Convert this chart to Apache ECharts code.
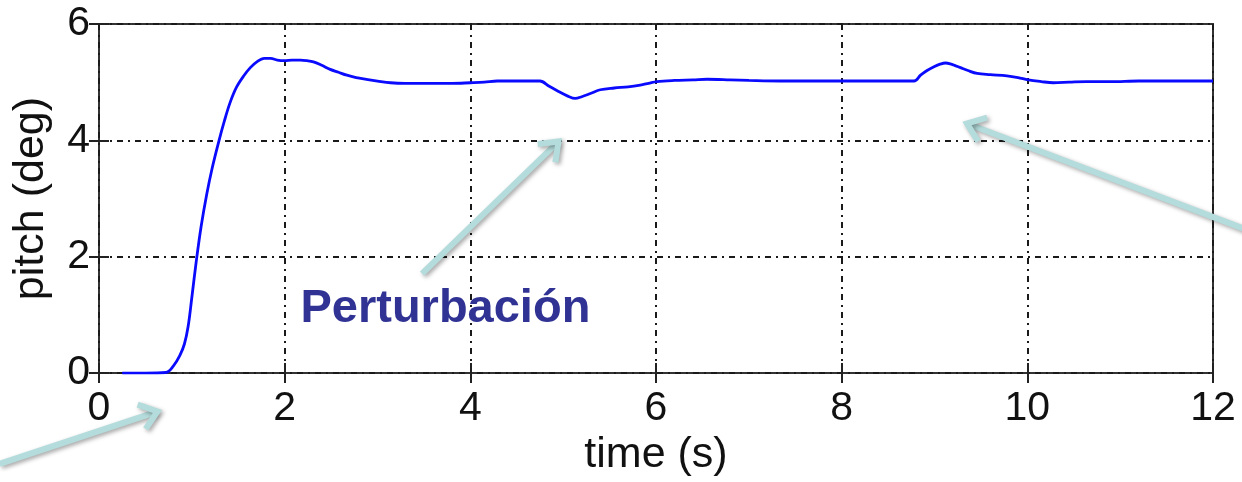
<!DOCTYPE html>
<html><head><meta charset="utf-8">
<script src="https://cdn.jsdelivr.net/npm/echarts@6/dist/echarts.min.js"></script>
<style>html,body{margin:0;padding:0;background:#fff}#c{width:1242px;height:482px}</style>
</head><body><div id="c"></div>
<script>
// ---- data ----
const timeS = [0.25,0.5,0.72,0.8,0.87,0.92,0.96,1.0,1.05,1.1,1.16,1.22,1.29,1.35,1.41,1.48,1.56,1.63,1.70,1.78,1.85,1.92,2.0,2.08,2.17,2.24,2.31,2.40,2.49,2.58,2.67,2.77,2.88,3.0,3.14,3.3,3.57,3.8,4.0,4.15,4.29,4.45,4.64,4.75,4.85,4.95,5.05,5.13,5.2,5.3,5.4,5.55,5.7,5.83,5.92,6.01,6.2,6.4,6.55,6.8,7.0,7.34,7.6,8.02,8.4,8.78,8.85,8.92,9.0,9.06,9.12,9.18,9.23,9.28,9.36,9.46,9.6,9.78,9.9,10.01,10.15,10.28,10.45,10.64,10.9,11.2,11.5,11.8,12.0];
const pitchDeg = [0,0,0.01,0.12,0.3,0.5,0.8,1.3,1.95,2.52,3.07,3.53,3.98,4.33,4.64,4.91,5.11,5.25,5.35,5.41,5.41,5.38,5.37,5.38,5.38,5.37,5.35,5.29,5.22,5.17,5.12,5.08,5.05,5.02,4.99,4.98,4.98,4.98,4.99,5.0,5.02,5.02,5.02,5.02,4.93,4.84,4.76,4.72,4.75,4.81,4.87,4.9,4.92,4.95,4.98,5.01,5.03,5.04,5.05,5.04,5.03,5.02,5.02,5.02,5.02,5.02,5.12,5.2,5.27,5.31,5.33,5.31,5.28,5.25,5.2,5.15,5.13,5.11,5.08,5.04,5.01,4.99,5.0,5.01,5.01,5.02,5.02,5.02,5.02];
const xTickValues = [0,2,4,6,8,10,12];
const yTickValues = [0,2,4,6];
const xAxisName = 'time (s)';
const yAxisName = 'pitch (deg)';
const noteText = 'Perturbación';
// annotation arrows in data coordinates: [tail, tip]
const arrowTails = [[-1.07,-1.56],[3.48,1.71],[12.4,2.44]];
const arrowTips  = [[0.63,-0.66],[4.95,3.98],[9.35,4.29]];
const noteAnchor = [2.17,1.1];

const chart = echarts.init(document.getElementById('c'), null, {renderer:'canvas'});
const FONT = 'Liberation Sans, Arial, Helvetica, sans-serif';
const gridStyle = {type:[6,5,2,5], color:'#1a1a1a', width:2};
const tickStyle = {inside:true, length:10, lineStyle:{color:'#222', width:2}};
const xStep = xTickValues[1]-xTickValues[0];
const yStep = yTickValues[1]-yTickValues[0];
const xMin = xTickValues[0], xMax = xTickValues[xTickValues.length-1];
const yMin = yTickValues[0], yMax = yTickValues[yTickValues.length-1];

chart.setOption({
  animation:false,
  backgroundColor:'#fff',
  grid:{left:99,right:29,top:24,bottom:104,show:true,borderColor:'#333',borderWidth:2,backgroundColor:'transparent'},
  xAxis:[{
    type:'value',min:xMin,max:xMax,interval:xStep,position:'bottom',
    axisLine:{show:false},axisTick:tickStyle,
    axisLabel:{fontSize:41,color:'#111',margin:15,fontFamily:FONT,lineHeight:41},
    splitLine:{show:true,lineStyle:gridStyle},
    name:xAxisName,nameLocation:'middle',nameGap:57,
    nameTextStyle:{fontSize:43,color:'#111',fontFamily:FONT,lineHeight:43}
  },{
    type:'value',min:xMin,max:xMax,interval:xStep,position:'top',
    axisLine:{show:false},axisTick:tickStyle,axisLabel:{show:false},splitLine:{show:false}
  }],
  yAxis:[{
    type:'value',min:yMin,max:yMax,interval:yStep,position:'left',
    axisLine:{show:false},axisTick:tickStyle,
    axisLabel:{fontSize:41,color:'#111',margin:9,fontFamily:FONT,lineHeight:41},
    splitLine:{show:true,lineStyle:gridStyle},
    name:yAxisName,nameLocation:'middle',nameGap:46,
    nameTextStyle:{fontSize:43,color:'#111',fontFamily:FONT,lineHeight:43}
  },{
    type:'value',min:yMin,max:yMax,interval:yStep,position:'right',
    axisLine:{show:false},axisTick:tickStyle,axisLabel:{show:false},splitLine:{show:false}
  }],
  series:[{
    type:'line',xAxisIndex:0,yAxisIndex:0,
    data:timeS.map((t,i)=>[t,pitchDeg[i]]),
    showSymbol:false,smooth:0.35,
    lineStyle:{color:'#0a0aff',width:2.8},
    z:3
  }]
});

// annotations
const arrowColor = '#b5dcdc';
const shadow = {shadowBlur:4,shadowColor:'rgba(0,0,0,0.35)',shadowOffsetX:2,shadowOffsetY:2};
const elems = [];
arrowTails.forEach((tail,i)=>{
  const p0 = chart.convertToPixel({gridIndex:0}, tail);
  const p1 = chart.convertToPixel({gridIndex:0}, arrowTips[i]);
  const ang = Math.atan2(p1[1]-p0[1], p1[0]-p0[0]);
  const L = 21, a = 0.65;
  const b1 = [p1[0]-L*Math.cos(ang-a), p1[1]-L*Math.sin(ang-a)];
  const b2 = [p1[0]-L*Math.cos(ang+a), p1[1]-L*Math.sin(ang+a)];
  elems.push({type:'polyline',z:10,shape:{points:[p0,[p1[0]-2*Math.cos(ang),p1[1]-2*Math.sin(ang)]]},
    style:Object.assign({stroke:arrowColor,lineWidth:6,fill:null,lineCap:'butt'},shadow)});
  elems.push({type:'polyline',z:10,shape:{points:[b1,p1,b2]},
    style:Object.assign({stroke:arrowColor,lineWidth:6,fill:null,lineJoin:'miter',lineCap:'butt'},shadow)});
});
const np = chart.convertToPixel({gridIndex:0}, noteAnchor);
elems.push({type:'text',z:11,x:np[0],y:np[1],style:{text:noteText,fill:'#303394',font:'bold 47px '+FONT,textAlign:'left',textVerticalAlign:'middle'}});
chart.setOption({graphic:elems});
</script>
</body></html>
